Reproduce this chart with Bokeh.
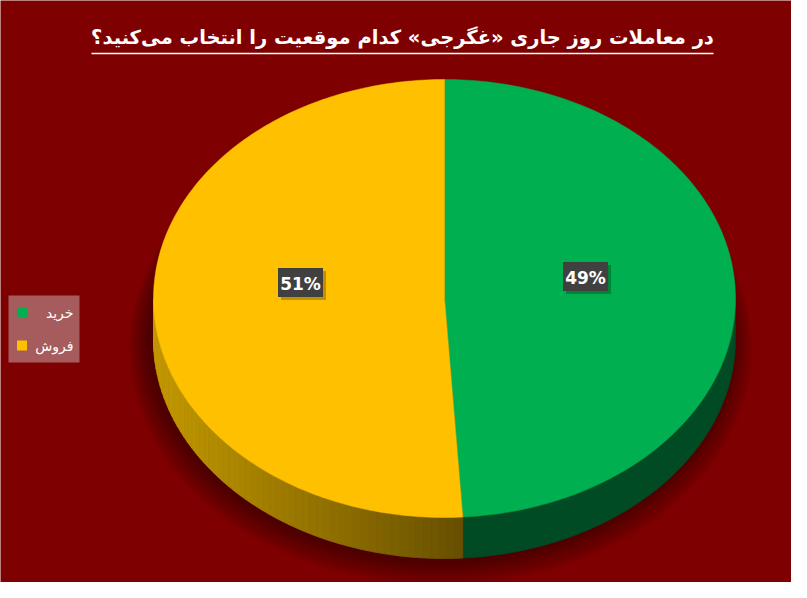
import numpy as np
from bokeh.plotting import figure
from bokeh.models import Range1d
from bokeh.core.properties import value
from bokeh.embed import file_html
from bokeh.resources import INLINE

# ---- data ----
categories = ["خرید", "فروش"]
shares = [49, 51]
pct_labels = ["49%", "51%"]
top_colors = ["#00b050", "#ffc000"]
title_text = "در معاملات روز جاری «غگرجی» کدام موقعیت را انتخاب می\u200cکنید؟"

BG = "#7f0000"
W, H = 791, 582
p = figure(width=W, height=H, output_backend="svg", toolbar_location=None,
           x_range=Range1d(0, W), y_range=Range1d(H, 0), min_border=0)
p.axis.visible = False
p.grid.visible = False
p.background_fill_color = BG
p.border_fill_color = BG
p.outline_line_color = None

# pie geometry (layout)
cx, cy, rx, ry, depth = 444, 298, 291, 219, 41


def pt(theta_deg, dy=0.0):
    t = np.radians(theta_deg)
    return cx + rx * np.sin(t), cy - ry * np.cos(t) + dy


# shadow (mostly below / left)
for i in range(12):
    s = 1.0 + 0.006 * (12 - i)
    p.ellipse(x=cx - 4, y=cy + 40 + 0.8 * (12 - i), width=2 * rx * s, height=2 * ry * s + 6,
              fill_color="black", fill_alpha=0.035, line_color=None)

total = float(sum(shares))
bounds = [0.0]
for v in shares:
    bounds.append(bounds[-1] + 360.0 * v / total)

# side walls (visible between 90 and 270 degrees)
side_green = "#004a24"
for i, v in enumerate(shares):
    a0, a1 = max(bounds[i], 90.0), min(bounds[i + 1], 270.0)
    if a1 <= a0:
        continue
    if i == 0:
        th = np.linspace(a0, a1, 80)
        xt, yt = pt(th)
        xb, yb = pt(th[::-1], depth)
        p.patch(np.concatenate([xt, xb]), np.concatenate([yt, yb]),
                fill_color=side_green, line_color=side_green, line_width=0.5)
    else:
        n = 60
        edges = np.linspace(a0, a1, n + 1)
        c_dark = np.array([0x68, 0x50, 0x00])
        c_light = np.array([0xc4, 0x9a, 0x00])
        x_start = pt(a0)[0]
        for k in range(n):
            th = np.linspace(edges[k], edges[k + 1], 4)
            xt, yt = pt(th)
            xb, yb = pt(th[::-1], depth)
            xm = np.mean(xt)
            f = np.clip((x_start - xm) / (x_start - (cx - rx)), 0, 1)
            c = (c_dark + (c_light - c_dark) * f).astype(int)
            col = "#%02x%02x%02x" % tuple(c)
            p.patch(np.concatenate([xt, xb]), np.concatenate([yt, yb]),
                    fill_color=col, line_color=col, line_width=0.8)

# top faces
for i, v in enumerate(shares):
    th = np.linspace(bounds[i], bounds[i + 1], 200)
    xs, ys = pt(th)
    p.patch(np.concatenate([[cx], xs]), np.concatenate([[cy], ys]),
            fill_color=top_colors[i], line_color=top_colors[i], line_width=0.5)

# data labels
label_pos = [(585, 276), (300, 282)]
for (lx, ly), t in zip(label_pos, pct_labels):
    p.rect(x=lx + 3, y=ly + 3, width=45, height=29, fill_color="black",
           fill_alpha=0.25, line_color=None)
    p.rect(x=lx, y=ly, width=45, height=29, fill_color="#404040", line_color=None)
    p.text(x=[lx], y=[ly + 1], text=[t], text_color="white", text_font=value("DejaVu Sans"),
           text_font_style="bold", text_font_size="17px", text_align="center",
           text_baseline="middle")

# title
p.text(x=[402], y=[37], text=[title_text], text_color="white",
       text_font=value("DejaVu Sans"), text_font_style="bold", text_font_size="19.5px",
       text_align="center", text_baseline="middle")
p.segment(x0=[91], y0=[53], x1=[713], y1=[53], line_color="white", line_width=1.5)

# legend
p.rect(x=43.5, y=328.5, width=71, height=67, fill_color="#a65c5c", line_color=None)
leg_y = [312, 345]
for yy, c, name in zip(leg_y, top_colors, categories):
    p.rect(x=21.5, y=yy, width=10, height=10, fill_color=c, line_color=None)
    p.text(x=[73], y=[yy], text=[name], text_color="white", text_font=value("DejaVu Sans"),
           text_font_size="14px", text_align="right", text_baseline="middle")

open("out.html", "w").write(file_html(p, INLINE))
